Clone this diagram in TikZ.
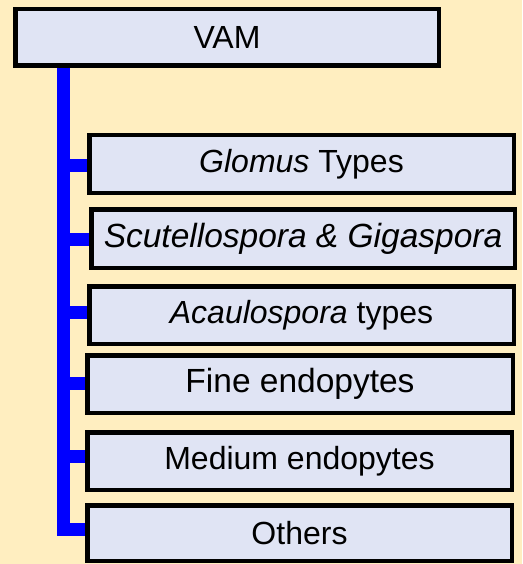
\documentclass[tikz,border=0pt]{standalone}
\usepackage{fontspec}
\setmainfont{Liberation Sans}
\usetikzlibrary{backgrounds}
\definecolor{bgyellow}{RGB}{255,238,192}
\definecolor{boxfill}{RGB}{224,228,244}
\definecolor{linkblue}{RGB}{0,0,255}
\tikzset{
  catbox/.style={draw=black, line width=4.5pt, fill=boxfill, inner sep=0pt,
    font=\fontsize{32}{36}\selectfont, text=black},
  bigtext/.style={font=\fontsize{33.5}{38}\selectfont},
  link/.style={draw=linkblue, line width=13pt, line cap=butt, line join=miter}
}
\begin{document}
\begin{tikzpicture}[x=1pt,y=-1pt]
\useasboundingbox (0,0) rectangle (522,564);
% boxes: outer edges -> centre, size minus line width
\node[catbox, minimum width=423.5pt, minimum height=56.5pt] (vam) at (227,37.5) {VAM};
\node[catbox, minimum width=424.5pt, minimum height=57.5pt] (glo) at (301.5,164) {\textit{Glomus} Types};
\node[catbox, bigtext, minimum width=423.5pt, minimum height=58.5pt] (scu) at (303,238.5) {\textit{Scutellospora \& Gigaspora}};
\node[catbox, minimum width=424.5pt, minimum height=57.5pt] (aca) at (301.5,315) {\textit{Acaulospora} types};
\node[catbox, bigtext, minimum width=425.5pt, minimum height=57.5pt] (fin) at (300,384) {Fine endopytes};
\node[catbox, minimum width=424.5pt, minimum height=57.5pt] (med) at (299.5,461) {Medium endopytes};
\node[catbox, minimum width=424.5pt, minimum height=55.5pt] (oth) at (299.5,533) {Others};
\coordinate (top) at (63.5,68);
\coordinate (ob) at (63.5,529.5);
\begin{scope}[on background layer]
\fill[bgyellow] (0,0) rectangle (522,564);
\draw[link] (top) -- ([yshift=-6.5pt]ob);
\draw[link] (ob) -- (oth.west |- ob);
\draw[link] (top |- 0,165.5) -- (glo.west |- 0,165.5);
\draw[link] (top |- 0,239.5) -- (scu.west |- 0,239.5);
\draw[link] (top |- 0,312) -- (aca.west |- 0,312);
\draw[link] (top |- 0,383.5) -- (fin.west |- 0,383.5);
\draw[link] (top |- 0,456) -- (med.west |- 0,456);
\end{scope}
\end{tikzpicture}
\end{document}
